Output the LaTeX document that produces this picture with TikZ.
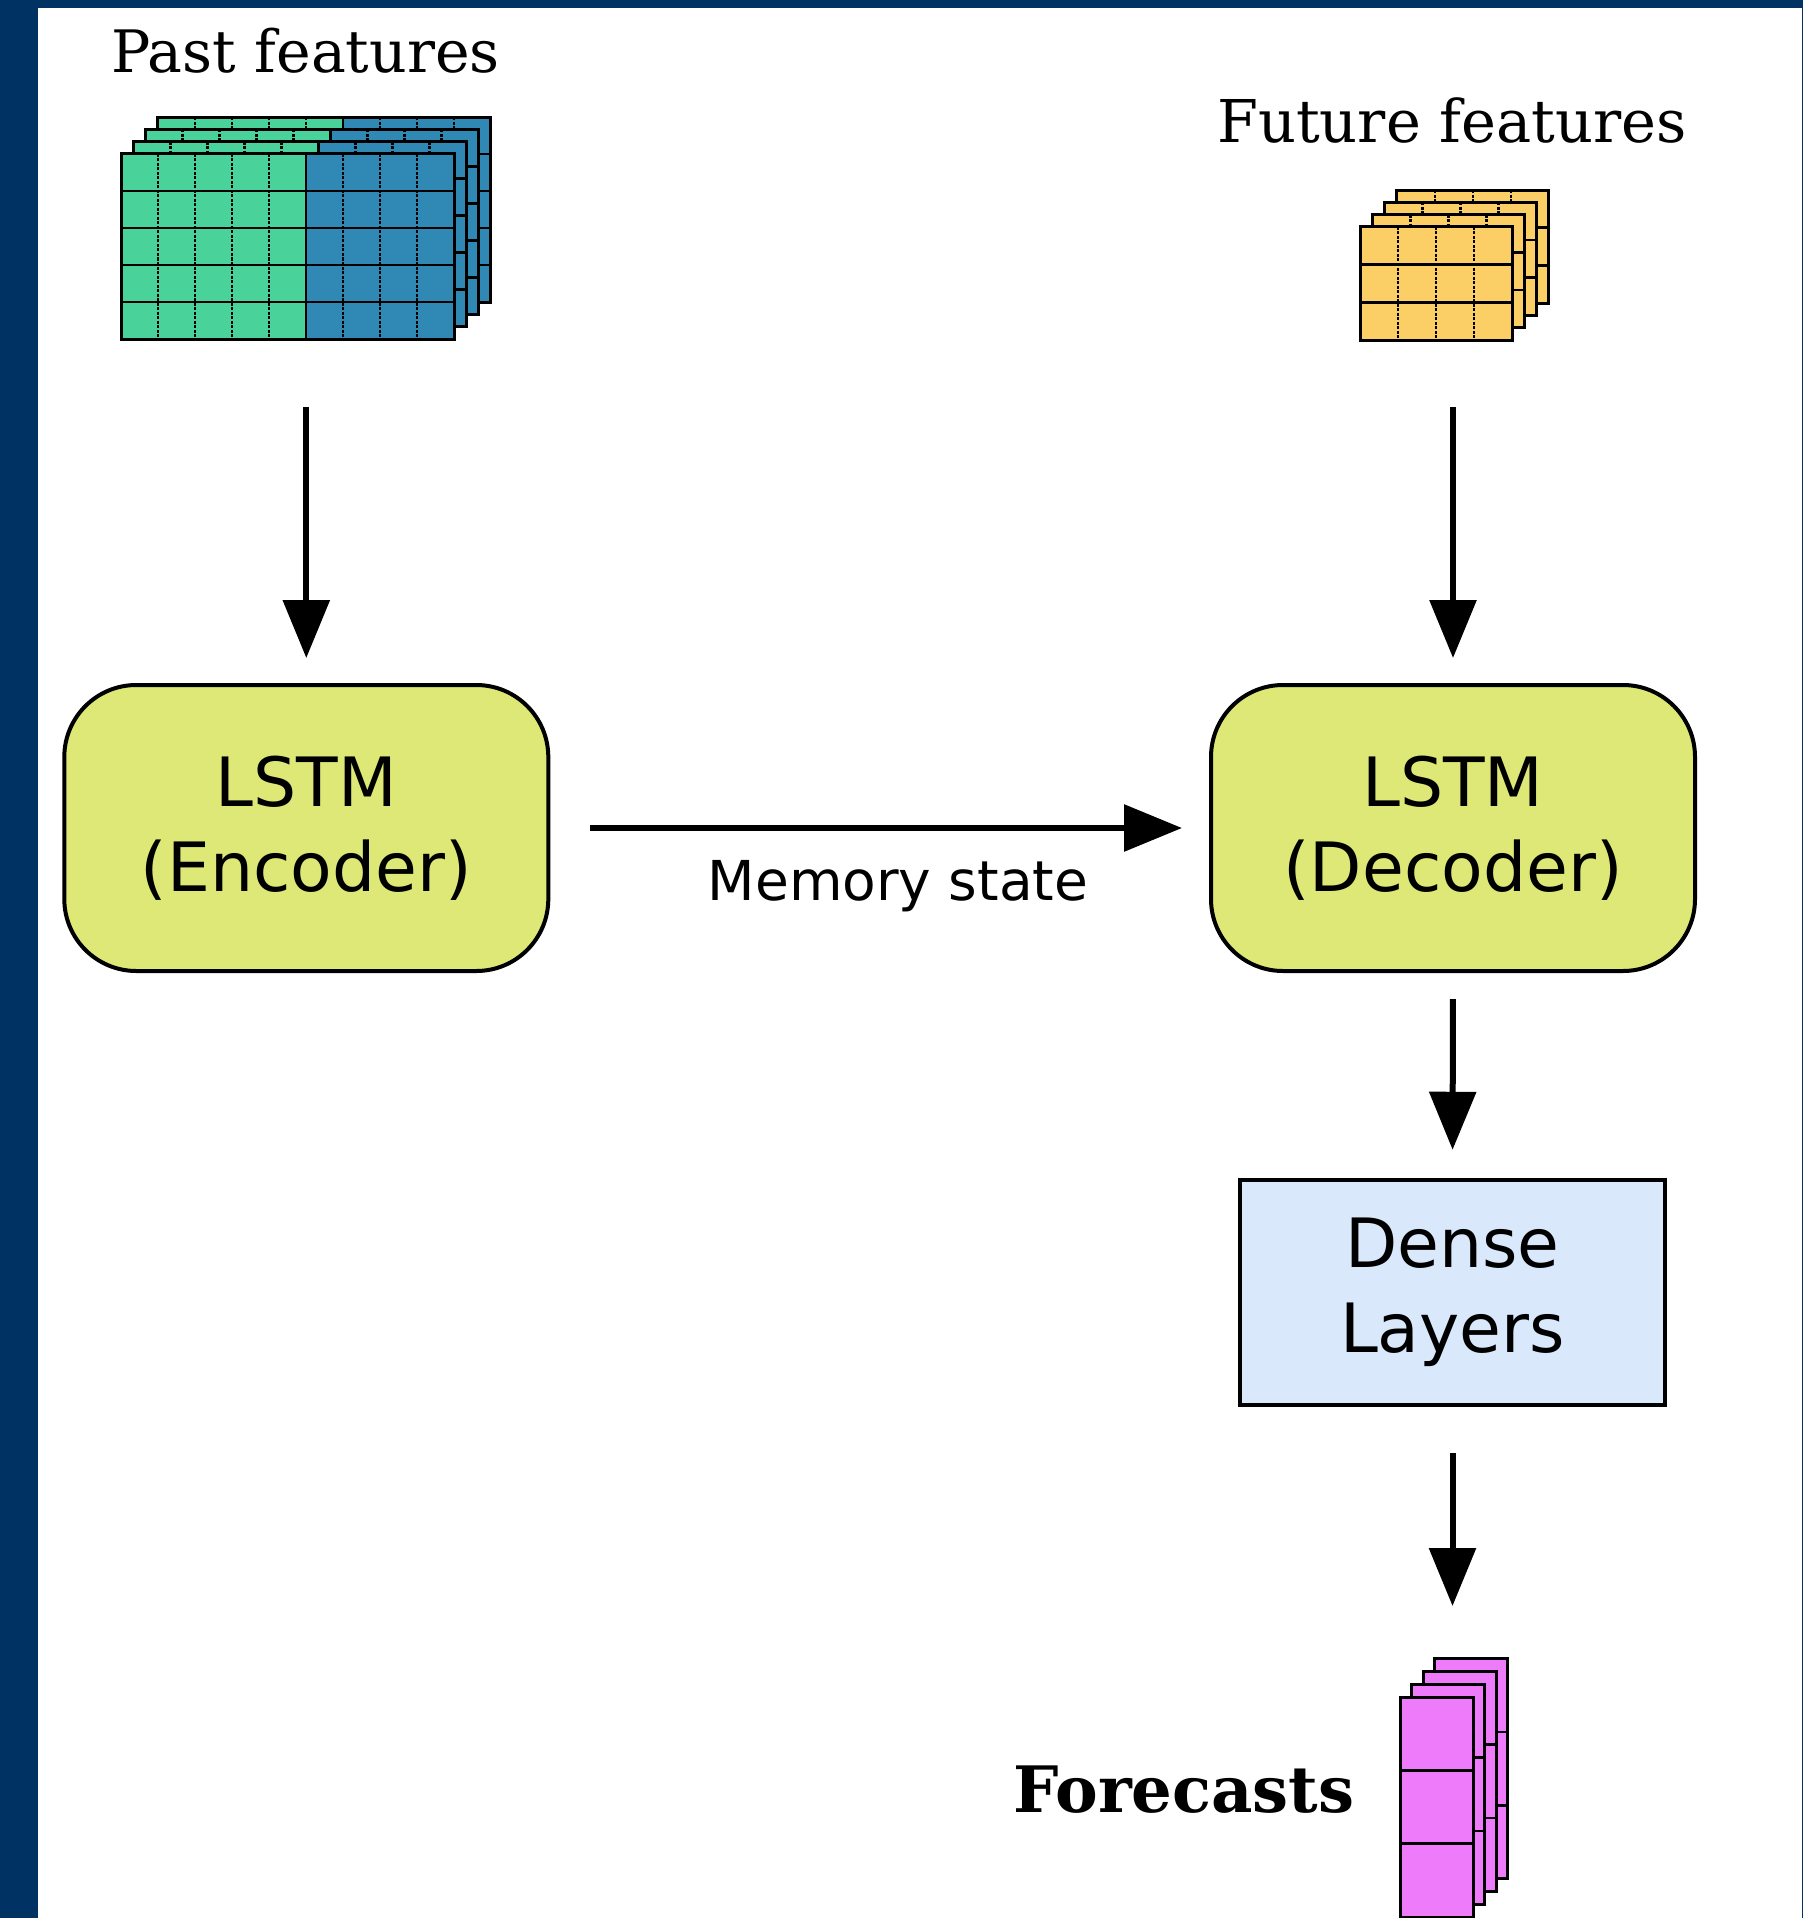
\documentclass[tikz,border=0pt]{standalone}
\usepackage{fontspec}
\usetikzlibrary{arrows.meta,fit}
\newfontfamily\serifA{DejaVu Serif}
\newfontfamily\sansA{DejaVu Sans}
\definecolor{navy}{RGB}{0,51,99}
\definecolor{lstmfill}{RGB}{221,232,118}
\definecolor{densefill}{RGB}{218,232,252}
\definecolor{tgreen}{RGB}{74,210,155}
\definecolor{tblue}{RGB}{47,137,180}
\definecolor{tyellow}{RGB}{252,207,102}
\definecolor{tpink}{RGB}{238,123,250}
\begin{document}
\begin{tikzpicture}[x=1pt,y=-1pt,
  grid/.style={line width=2.6pt},
  gridv/.style={line width=2.4pt, dash pattern=on 3pt off 1.5pt},
  tborder/.style={line width=3pt},
  lstm/.style={draw, line width=4pt, rounded corners=72pt, fill=lstmfill,
    minimum width=484pt, minimum height=286pt, inner sep=0pt, align=center,
    font=\sansA\fontsize{68}{85}\selectfont},
  dense/.style={draw, line width=4.5pt, fill=densefill,
    minimum width=425pt, minimum height=225pt, inner sep=0pt, align=center,
    font=\sansA\fontsize{68}{85}\selectfont},
  arr/.style={-{Triangle[length=58pt,width=46pt]}, line width=6pt},
  box/.style={inner sep=0pt, outer sep=0pt}
]
\fill[navy] (0,0) rectangle (1803,1918);
\fill[white] (38,8) rectangle (1802,1918);
\useasboundingbox (0,0) rectangle (1803,1918);

% Past features tensor
\foreach \k in {3,2,1,0}{
  \begin{scope}[shift={(12.3*\k,-12.3*\k)}]
    \fill[tgreen] (121,154) rectangle (306,339);
    \fill[tblue] (306,154) rectangle (454,339);
    \foreach \i in {1,...,4} \draw[grid] (121,154+37*\i) -- (454,154+37*\i);
    \foreach \j in {1,2,3,4,6,7,8} \draw[gridv] (121+37*\j,154) -- (121+37*\j,339);
    \draw[grid] (306,154) -- (306,339);
    \draw[tborder] (121,154) rectangle (454,339);
  \end{scope}
}
\node[box, fit={(121,117) (491,339)}] (past) {};

% Future features tensor
\foreach \k in {3,2,1,0}{
  \begin{scope}[shift={(12.3*\k,-12.3*\k)}]
    \fill[tyellow] (1360,227) rectangle (1512,340);
    \foreach \i in {1,2} \draw[grid] (1360,227+37.67*\i) -- (1512,227+37.67*\i);
    \foreach \j in {1,2,3} \draw[gridv] (1360+38*\j,227) -- (1360+38*\j,340);
    \draw[tborder] (1360,227) rectangle (1512,340);
  \end{scope}
}
\node[box, fit={(1360,190) (1549,340)}] (fut) {};

% Forecasts tensor
\foreach \k in {3,2,1,0}{
  \begin{scope}[shift={(11.5*\k,-12.8*\k)}]
    \fill[tpink] (1400,1697) rectangle (1473,1917);
    \foreach \i in {1,2} \draw[grid] (1400,1697+73.3*\i) -- (1473,1697+73.3*\i);
    \draw[tborder] (1400,1697) rectangle (1473,1917);
  \end{scope}
}
\node[box, fit={(1400,1659) (1507,1917)}] (fc) {};

% Labels
\node[anchor=base, font=\serifA\fontsize{58.5}{70}\selectfont] (pastlbl) at (305.5,73) {Past features};
\node[anchor=base, font=\serifA\fontsize{59}{70}\selectfont] (futlbl) at (1452,143) {Future features};
\node[anchor=base east, font=\serifA\bfseries\fontsize{64}{76}\selectfont] (fclbl) at (1358,1812) {Forecasts};

% Boxes
\node[lstm] (enc) at (306.3,828) {LSTM\\(Encoder)};
\node[lstm] (dec) at (1453,828) {LSTM\\(Decoder)};
\node[dense] (dns) at (1452.5,1292.5) {Dense\\Layers};

% Connectors
\draw[arr, shorten <=68pt, shorten >=25pt] (past.south -| enc.north) -- (enc.north);
\draw[arr, shorten <=67pt, shorten >=25pt] (fut.south -| dec.north) -- (dec.north);
\draw[arr, shorten <=40pt, shorten >=27pt] (enc.east) -- (dec.west);
\draw[arr, shorten <=26pt, shorten >=28pt] (dec.south) -- (dns.north);
\draw[arr, shorten <=46pt, shorten >=53pt] (dns.south) -- (fc.north -| dns.south);

\node[anchor=base, font=\sansA\fontsize{55}{66}\selectfont] (mem) at (898,900) {Memory state};
\end{tikzpicture}
\end{document}
